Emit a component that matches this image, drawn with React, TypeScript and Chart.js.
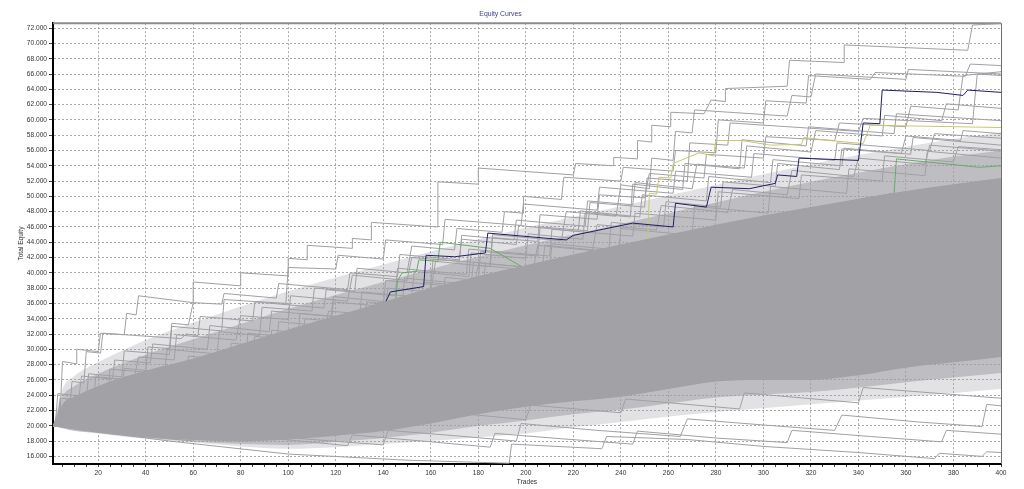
import { useEffect, useRef } from 'react';
import { Chart, registerables } from 'chart.js';

Chart.register(...registerables);

type Pt = [number, number];

// ---------- axes ----------
const X_LABELS = [20, 40, 60, 80, 100, 120, 140, 160, 180, 200, 220, 240, 260, 280, 300, 320, 340, 360, 380, 400];
const Y_TICKS = [16000, 18000, 20000, 22000, 24000, 26000, 28000, 30000, 32000, 34000, 36000, 38000, 40000, 42000, 44000, 46000, 48000, 50000, 52000, 54000, 56000, 58000, 60000, 62000, 64000, 66000, 68000, 70000, 72000];

// ---------- density bands of the simulated equity curves ----------
const BAND_TRADES = [1, 5, 10, 20, 30, 40, 60, 80, 100, 120, 140, 160, 180, 200, 220, 240, 260, 280, 300, 320, 340, 360, 380, 400];
const DENSE_HIGH = [20000, 22800, 23800, 25200, 26300, 27200, 28800, 30700, 32600, 34400, 36200, 38000, 39600, 41000, 42400, 43700, 45000, 46300, 47500, 48600, 49700, 50700, 51600, 52400];
const DENSE_LOW = [20000, 19800, 19500, 19100, 18750, 18500, 18150, 17950, 18200, 18700, 19300, 20300, 21500, 22500, 23200, 23800, 24800, 25800, 26000, 26000, 26600, 27600, 28300, 29000];
const MID_HIGH = [20000, 23800, 25200, 26800, 28100, 29300, 31300, 33300, 35300, 37100, 38800, 40500, 42100, 43600, 45000, 46400, 47800, 49200, 50600, 51900, 53100, 54200, 55200, 56000];
const MID_LOW = [20000, 19700, 19350, 19050, 18700, 18400, 17950, 17600, 17500, 17900, 18400, 19100, 20000, 20700, 21500, 22100, 22900, 23700, 24100, 24400, 25000, 25700, 26300, 26900];
const HAZE_HIGH = [20000, 24800, 26500, 28300, 29800, 31200, 33500, 35600, 37600, 39400, 41100, 42800, 44400, 45900, 47300, 48700, 50100, 51500, 52900, 54200, 55400, 56500, 57500, 58400];
const HAZE_LOW = [20000, 19650, 19300, 19000, 18600, 18300, 17800, 17300, 17000, 17200, 17600, 18000, 18500, 19000, 19800, 20500, 21200, 21800, 22300, 22800, 23300, 23800, 24300, 24800];

// ---------- individual outlying curves (trade, equity) ----------
const CURVE_U1: Pt[] = [[1, 20000], [4, 21800], [5, 28400], [11, 28100], [11, 30000], [20, 29700], [21, 32100], [31, 31900], [32, 34700], [36, 34500], [37, 37000], [60, 36100], [60, 38800], [80, 38300], [80, 40000], [100, 39600], [100, 41900], [108, 41700], [108, 43600], [127, 43200], [127, 44500], [135, 44300], [135, 46600], [163, 46000], [163, 51900], [180, 51600], [180, 53700], [220, 52800], [221, 54300], [237, 54000], [237, 55100], [247, 54900], [247, 57300], [253, 57100], [253, 59300], [261, 59100], [261, 61000], [275, 60800], [278, 62600], [284, 62400], [284, 64100], [310, 64400], [311, 67800], [334, 67500], [334, 69800], [386, 69100], [388, 72400], [400, 72600]];
const CURVE_U2: Pt[] = [[1, 20000], [15, 21500], [16, 24500], [30, 24000], [31, 27500], [48, 27000], [49, 30000], [70, 29400], [71, 32300], [88, 31800], [89, 35500], [110, 35000], [111, 38000], [128, 37600], [129, 40600], [150, 40000], [152, 43500], [170, 43000], [171, 45800], [190, 45300], [191, 48000], [199, 47800], [199, 50000], [215, 49600], [216, 52500], [240, 52000], [241, 53800], [262, 53300], [263, 56000], [280, 55700], [281, 60000], [300, 59600], [301, 62500], [318, 62200], [319, 65800], [345, 65300], [347, 66200], [385, 65700], [387, 67300], [400, 67100]];
const CURVE_U3: Pt[] = [[1, 20000], [25, 19500], [26, 22600], [40, 22300], [41, 25500], [58, 25000], [60, 28000], [75, 27600], [76, 30800], [95, 30200], [96, 33600], [118, 33000], [119, 36200], [140, 35600], [141, 39000], [160, 38500], [161, 41800], [185, 41200], [186, 44600], [205, 44100], [206, 47600], [230, 47000], [231, 50200], [250, 49800], [252, 53000], [275, 52400], [276, 55500], [300, 55000], [301, 57800], [330, 57300], [332, 59600], [360, 59100], [362, 61800], [382, 61300], [384, 65800], [400, 66300]];
const CURVE_U4: Pt[] = [[1, 20000], [10, 19700], [11, 22800], [35, 22000], [36, 25000], [55, 24500], [56, 27800], [85, 27000], [86, 30500], [110, 29800], [111, 33200], [135, 32600], [136, 36000], [165, 35200], [166, 39400], [180, 39000], [181, 42800], [205, 42200], [206, 46000], [226, 45500], [227, 49200], [250, 48600], [251, 52400], [268, 52000], [269, 57000], [285, 56700], [286, 59600], [340, 58500], [342, 60200], [388, 59500], [390, 66000], [400, 65800]];
const CURVE_U5: Pt[] = [[1, 20000], [3, 20700], [4, 23600], [18, 23200], [19, 26400], [35, 26000], [37, 29000], [52, 28600], [53, 31900], [78, 31200], [80, 34400], [100, 33900], [101, 37000], [125, 36300], [127, 39700], [150, 39000], [152, 42000], [172, 41500], [173, 44900], [195, 44300], [196, 46900], [225, 46100], [226, 49400], [245, 48900], [246, 51800], [270, 51000], [272, 54200], [292, 53700], [293, 56600], [320, 55800], [322, 58600], [350, 57900], [351, 60600], [375, 59900], [377, 62100], [400, 61500]];
const CURVE_U6: Pt[] = [[1, 20000], [22, 19400], [23, 22400], [45, 21800], [46, 25200], [66, 24600], [67, 28000], [90, 27300], [92, 30600], [112, 30000], [113, 33300], [137, 32700], [138, 36100], [158, 35600], [160, 38500], [182, 37900], [183, 41200], [210, 40500], [211, 43800], [235, 43100], [236, 46600], [258, 46000], [259, 49300], [282, 48600], [283, 51900], [305, 51300], [306, 54300], [332, 53500], [333, 56200], [358, 55600], [360, 57900], [383, 57300], [384, 58600], [400, 58200]];
const CURVE_U7: Pt[] = [[1, 20000], [6, 20300], [7, 23500], [15, 23300], [16, 26800], [30, 26400], [31, 29800], [50, 29300], [51, 33000], [72, 32400], [73, 36500], [99, 36000], [100, 40700], [120, 40500], [121, 42300], [140, 41800], [141, 44300], [165, 43700], [166, 47000], [198, 46200], [199, 49000], [230, 48200], [231, 51200], [262, 50400], [263, 53300], [295, 52500], [296, 55600], [330, 54700], [331, 57000], [370, 56000], [372, 58200], [400, 57600]];
const CURVE_U8: Pt[] = [[1, 20000], [8, 22000], [9, 25800], [14, 25600], [15, 29700], [21, 29500], [22, 32100], [55, 31400], [57, 32000], [62, 31800], [63, 34300], [85, 33700], [86, 36200], [115, 35400], [116, 37800], [145, 37000], [146, 40600], [175, 39800], [176, 43100], [210, 42200], [211, 45700], [245, 44800], [246, 47800], [280, 46900], [281, 50600], [315, 49700], [316, 52800], [350, 52000], [351, 55300], [380, 54500], [382, 56500], [400, 56100]];
const CURVE_U9: Pt[] = [[1, 20000], [30, 19500], [31, 22500], [50, 22000], [52, 26000], [70, 25500], [71, 29400], [92, 28800], [93, 32500], [115, 31900], [117, 35000], [140, 34400], [142, 38000], [160, 37500], [162, 41500], [185, 40800], [186, 45000], [215, 44200], [217, 48000], [238, 47400], [240, 51500], [252, 51000], [253, 55000], [262, 54700], [263, 58500], [270, 58300], [271, 61300], [310, 60500], [312, 63200], [320, 63000], [322, 66000], [360, 65300], [361, 66600], [400, 66000]];
const CURVE_U10: Pt[] = [[1, 20000], [12, 19700], [13, 22000], [28, 21600], [29, 24300], [44, 23900], [46, 27000], [64, 26500], [65, 29200], [84, 28700], [86, 31700], [106, 31100], [107, 34000], [132, 33300], [133, 36200], [155, 35600], [157, 38800], [178, 38200], [180, 41000], [203, 40300], [205, 43600], [228, 42900], [230, 46300], [255, 45600], [257, 48800], [285, 47900], [287, 50900], [310, 50200], [312, 53400], [338, 52600], [340, 55000], [368, 54200], [370, 56700], [400, 55900]];
const CURVE_U11: Pt[] = [[1, 20000], [9, 20800], [10, 24000], [24, 23600], [25, 27400], [40, 27000], [41, 30300], [50, 30100], [51, 33400], [58, 33200], [60, 36100], [72, 35900], [73, 37300], [95, 36700], [96, 38600], [125, 37800], [126, 40000], [146, 39500], [147, 42400], [172, 41700], [173, 44400], [196, 43700], [197, 46200], [222, 45400], [223, 48100], [248, 47300], [249, 50200], [276, 49400], [277, 52600], [303, 51800], [304, 54800], [333, 54000], [334, 56300], [362, 55500], [363, 57700], [400, 56700]];
const CURVE_U12: Pt[] = [[1, 20000], [18, 19600], [19, 23000], [38, 22500], [39, 26200], [57, 25700], [58, 29100], [82, 28400], [83, 32100], [104, 31500], [105, 34700], [130, 34000], [131, 37500], [152, 36900], [153, 40200], [176, 39500], [177, 42600], [200, 41900], [201, 45100], [224, 44400], [225, 47900], [244, 47300], [245, 51600], [266, 50900], [267, 54300], [290, 53600], [291, 57400], [318, 56600], [319, 59100], [355, 58200], [356, 60800], [400, 59900]];
const CURVE_U13: Pt[] = [[1, 20000], [2, 20200], [3, 24200], [12, 23900], [13, 26500], [26, 26100], [27, 28600], [42, 28200], [43, 30700], [66, 30000], [67, 33100], [92, 32300], [93, 35000], [118, 34300], [119, 36900], [148, 36000], [149, 39300], [177, 38500], [178, 41400], [207, 40500], [208, 43600], [239, 42700], [240, 45800], [270, 44900], [271, 48700], [302, 47800], [303, 51300], [335, 50400], [336, 53600], [368, 52700], [369, 55900], [400, 55000]];
const CURVE_L1: Pt[] = [[1, 20000], [50, 18000], [100, 16300], [150, 15500], [193, 15100], [194, 17600], [232, 17000], [234, 18600], [268, 18200], [300, 17300], [340, 16500], [372, 15700], [374, 16400], [392, 16000], [394, 16600], [400, 16500]];
const CURVE_L2: Pt[] = [[1, 20000], [30, 18900], [60, 18000], [62, 19300], [95, 18300], [125, 17400], [127, 18800], [160, 17900], [185, 17200], [187, 19000], [215, 18300], [245, 17600], [247, 19300], [280, 18400], [310, 17800], [312, 19400], [345, 18600], [375, 17900], [377, 19400], [400, 18900]];
const CURVE_L3: Pt[] = [[1, 20000], [40, 18600], [42, 20200], [80, 19000], [110, 18200], [140, 17500], [142, 19400], [170, 18700], [196, 18000], [198, 20300], [230, 19400], [265, 18600], [268, 20900], [300, 20100], [330, 19400], [333, 21400], [365, 20500], [392, 19900], [394, 22800], [400, 22600]];
const CURVE_L4: Pt[] = [[1, 20000], [20, 19300], [22, 20800], [70, 19200], [72, 20800], [120, 19400], [122, 21300], [150, 20500], [152, 22200], [200, 20800], [202, 22700], [240, 21700], [242, 23500], [290, 22200], [292, 24300], [340, 23000], [342, 25000], [400, 23600]];

// ---------- highlighted curves ----------
const CURVE_NAVY: Pt[] = [[1, 20000], [20, 24300], [40, 25800], [60, 27600], [78, 29800], [100, 31000], [120, 33000], [140, 35500], [143, 37500], [157, 38200], [158, 42300], [170, 42100], [183, 42600], [184, 45200], [217, 44300], [220, 44900], [245, 46500], [262, 46000], [263, 49100], [276, 48600], [278, 51200], [294, 51000], [305, 51700], [306, 52800], [314, 52600], [315, 55000], [340, 54700], [342, 59600], [349, 59500], [350, 63900], [373, 63600], [384, 63200], [386, 63900], [400, 63600]];
const CURVE_YELLOW: Pt[] = [[1, 20000], [60, 21000], [125, 21500], [180, 30000], [220, 36000], [240, 40000], [251, 41500], [252, 50400], [255, 50300], [256, 52500], [261, 52400], [262, 54300], [273, 55700], [279, 55300], [280, 57300], [291, 57300], [303, 56700], [316, 56800], [317, 57700], [328, 57300], [342, 56900], [345, 59300], [400, 59000]];
const CURVE_GREEN: Pt[] = [[1, 20000], [60, 25000], [120, 32000], [145, 35500], [146, 39000], [148, 40000], [154, 40200], [155, 41700], [163, 41500], [164, 44000], [185, 43200], [200, 40500], [240, 43300], [280, 46000], [320, 48400], [355, 50400], [356, 54900], [391, 53800], [400, 54000]];

const GRAY_CURVES = [CURVE_U1, CURVE_U2, CURVE_U3, CURVE_U4, CURVE_U5, CURVE_U6, CURVE_U7, CURVE_U8, CURVE_U9, CURVE_U10, CURVE_U11, CURVE_U12, CURVE_U13, CURVE_L1, CURVE_L2, CURVE_L3, CURVE_L4];

const FONT = "'Liberation Sans', Arial, sans-serif";
const GRAY = 'rgb(160,160,165)';

const fmtK = (v: number) => {
  const k = Math.floor(v / 1000);
  const r = Math.round(v % 1000);
  return k + '.' + String(r).padStart(3, '0');
};

export default function App() {
  const ref = useRef<HTMLCanvasElement | null>(null);

  useEffect(() => {
    document.body.style.margin = '0';
    const canvas = ref.current;
    if (!canvas) return;

    const toXY = (pts: Pt[]) => pts.map(([x, y]) => ({ x, y }));
    const band = (ys: number[]) => BAND_TRADES.map((x, i) => ({ x, y: ys[i] }));
    const edge = (ys: number[], order: number) => ({
      data: band(ys), borderColor: 'transparent', borderWidth: 1, pointRadius: 0,
      fill: false, cubicInterpolationMode: 'monotone' as const, order,
    });
    const line = (pts: Pt[], color: string, order: number, width = 1) => ({
      data: toXY(pts), borderColor: color, borderWidth: width, pointRadius: 0,
      fill: false, tension: 0, order,
    });

    const datasets: any[] = [];
    // 0,1 haze
    datasets.push(edge(HAZE_LOW, 100));
    datasets.push({ ...edge(HAZE_HIGH, 99), fill: 0, backgroundColor: 'rgba(160,160,166,0.3)' });
    // 2,3 mid
    datasets.push(edge(MID_LOW, 98));
    datasets.push({ ...edge(MID_HIGH, 97), fill: 2, backgroundColor: 'rgba(160,160,166,0.55)' });
    // gray outliers
    GRAY_CURVES.forEach((c) => datasets.push(line(c, GRAY, 50)));
    // highlighted
    datasets.push(line(CURVE_GREEN, '#6aa86a', 40));
    datasets.push(line(CURVE_YELLOW, '#c8c86e', 40));
    datasets.push(line(CURVE_NAVY, '#1e1e64', 39));
    // dense band
    const dl = datasets.length;
    datasets.push(edge(DENSE_LOW, 10));
    datasets.push({ ...edge(DENSE_HIGH, 9), fill: dl, backgroundColor: 'rgb(161,161,166)' });

    const minorX: number[] = [];
    for (let v = 5; v <= 400; v += 5) minorX.push(v);

    const frame = {
      id: 'frame',
      beforeDatasetsDraw(chart: any) {
        const { ctx, chartArea: a } = chart;
        ctx.save();
        ctx.strokeStyle = '#8c8c8c';
        ctx.lineWidth = 2;
        ctx.beginPath();
        ctx.moveTo(a.left, a.top);
        ctx.lineTo(a.right, a.top);
        ctx.stroke();
        ctx.lineWidth = 1;
        ctx.strokeStyle = '#6e6e6e';
        ctx.beginPath();
        ctx.moveTo(Math.round(a.right) + 0.5, a.top);
        ctx.lineTo(Math.round(a.right) + 0.5, a.bottom);
        ctx.stroke();
        ctx.restore();
      },
    };

    const chart = new Chart(canvas, {
      type: 'line',
      data: { datasets },
      plugins: [frame],
      options: {
        responsive: false,
        animation: false,
        events: [],
        layout: { padding: { left: 0, right: 23, top: 0, bottom: 0 } },
        plugins: {
          legend: { display: false },
          tooltip: { enabled: false },
          title: {
            display: true,
            text: 'Equity Curves',
            color: '#3c3c96',
            font: { family: FONT, size: 6.8, weight: 'normal' },
            padding: { top: 10, bottom: 5 },
          },
        },
        scales: {
          x: {
            type: 'linear',
            min: 1,
            max: 400,
            afterBuildTicks: (s: any) => { s.ticks = minorX.map((v) => ({ value: v })); },
            afterFit: (s: any) => { s.height = 25; },
            ticks: {
              autoSkip: false,
              maxRotation: 0,
              padding: 2,
              color: '#333',
              font: { family: FONT, size: 6.6 },
              callback: (v: any) => (X_LABELS.includes(Number(v)) ? String(v) : ''),
            },
            grid: {
              color: (c: any) => (c.tick && X_LABELS.includes(c.tick.value) && c.tick.value < 400 ? '#a8a8a8' : 'transparent'),
              tickColor: '#444',
              tickLength: 3,
              lineWidth: 1,
            },
            border: { display: true, color: '#000', width: 2, dash: [2, 2] },
            title: {
              display: true,
              text: 'Trades',
              color: '#333',
              font: { family: FONT, size: 6.6 },
              padding: { top: 0, bottom: 3 },
            },
          },
          y: {
            type: 'linear',
            min: 15000,
            max: 72650,
            afterBuildTicks: (s: any) => { s.ticks = Y_TICKS.map((v) => ({ value: v })); },
            afterFit: (s: any) => { s.width = 53; },
            ticks: {
              padding: 2,
              color: '#333',
              font: { family: FONT, size: 6.6 },
              callback: (v: any) => fmtK(Number(v)),
            },
            grid: { color: '#a8a8a8', tickColor: '#444', tickLength: 4, lineWidth: 1 },
            border: { display: true, color: '#000', width: 2, dash: [2, 2] },
            title: {
              display: true,
              text: 'Total Equity',
              color: '#333',
              font: { family: FONT, size: 6.6 },
              padding: { top: 17, bottom: 0 },
            },
          },
        },
      } as any,
    });

    return () => chart.destroy();
  }, []);

  return <canvas ref={ref} width={1024} height={489} style={{ display: 'block' }} />;
}
